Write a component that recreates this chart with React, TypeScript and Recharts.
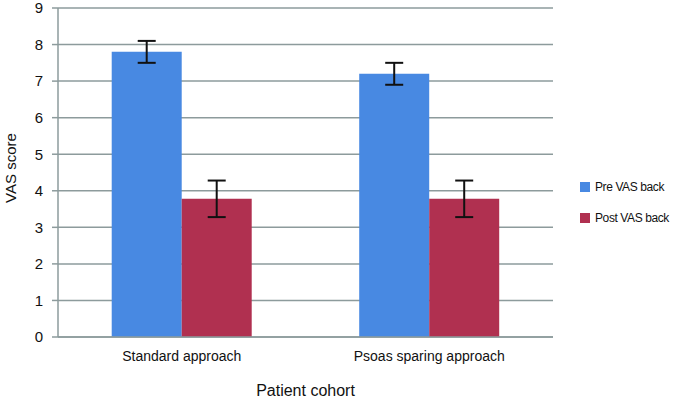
import React from "react";
import { BarChart, Bar, XAxis, YAxis, CartesianGrid, ErrorBar, Label } from "recharts";

const categories = ["Standard approach", "Psoas sparing approach"];
const preVas = [7.8, 7.2];
const preErr = [0.3, 0.3];
const postVas = [3.78, 3.78];
const postErr = [0.5, 0.5];
const yTicks = [0, 1, 2, 3, 4, 5, 6, 7, 8, 9];

const data = categories.map((name, i) => ({
  name,
  pre: preVas[i],
  preErr: preErr[i],
  post: postVas[i],
  postErr: postErr[i],
}));

const FONT = '"Liberation Sans", Arial, Helvetica, sans-serif';
const GRID = "#8d9b9c";
const BLUE = "#4889e2";
const RED = "#b03050";

const legendItems = [
  { label: "Pre VAS back", color: BLUE },
  { label: "Post VAS back", color: RED },
];

const App = () => {
  return (
    <div style={{ position: "absolute", left: 0, top: 0, width: 676, height: 400, background: "#fff", fontFamily: FONT }}>
      <BarChart
        width={676}
        height={400}
        data={data}
        margin={{ top: 8, right: 123, bottom: 0, left: 0 }}
        barGap={0}
        barCategoryGap="21.7%"
      >
        <CartesianGrid vertical={false} stroke={GRID} strokeWidth={1.5} />
        <XAxis
          dataKey="name"
          height={63}
          axisLine={{ stroke: GRID, strokeWidth: 1.5 }}
          tickLine={false}
          tickMargin={8}
          tick={{ fill: "#111", fontSize: 14, fontFamily: FONT }}
        >
          <Label
            value="Patient cohort"
            position="insideBottom"
            offset={4}
            style={{ fill: "#111", fontSize: 16, fontFamily: FONT }}
          />
        </XAxis>
        <XAxis
          xAxisId="edges"
          type="number"
          domain={[0, 2]}
          ticks={[0, 1, 2]}
          height={0}
          axisLine={false}
          tick={false}
          tickSize={5}
          tickLine={{ stroke: GRID, strokeWidth: 1.5 }}
        />
        <YAxis
          width={58}
          domain={[0, 9]}
          ticks={yTicks}
          interval={0}
          axisLine={{ stroke: GRID, strokeWidth: 1.5 }}
          tickLine={{ stroke: GRID, strokeWidth: 1.5 }}
          tickSize={6}
          tickMargin={9}
          tick={{ fill: "#111", fontSize: 15, fontFamily: FONT }}
          label={{
            content: () => (
              <text
                x={16}
                y={168}
                transform="rotate(-90 16 168)"
                textAnchor="middle"
                fill="#111"
                fontSize={15}
                fontFamily={FONT}
              >
                VAS score
              </text>
            ),
          }}
        />
        <Bar dataKey="pre" fill={BLUE} isAnimationActive={false}>
          <ErrorBar dataKey="preErr" width={9} stroke="#111" strokeWidth={2} />
        </Bar>
        <Bar dataKey="post" fill={RED} isAnimationActive={false}>
          <ErrorBar dataKey="postErr" width={9} stroke="#111" strokeWidth={2} />
        </Bar>
      </BarChart>
      <div style={{ position: "absolute", left: 580, top: 177, whiteSpace: "nowrap" }}>
        {legendItems.map((item) => (
          <div key={item.label} style={{ display: "flex", alignItems: "center", height: 19, marginBottom: 12 }}>
            <span style={{ width: 10, height: 10, background: item.color, marginRight: 5, display: "inline-block", flexShrink: 0 }} />
            <span style={{ fontSize: 12, letterSpacing: -0.4, color: "#111" }}>{item.label}</span>
          </div>
        ))}
      </div>
    </div>
  );
};

export default App;
